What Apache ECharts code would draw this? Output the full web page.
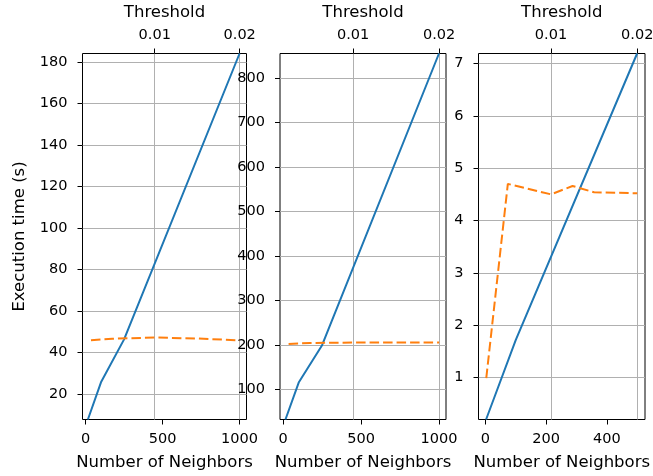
<!DOCTYPE html>
<html>
<head>
<meta charset="utf-8">
<script src="https://cdn.jsdelivr.net/npm/echarts@6/dist/echarts.min.js"></script>
<style>
html,body{margin:0;padding:0;background:#fff;}
#chart{width:653px;height:476px;}
</style>
</head>
<body>
<div id="chart"></div>
<script>
// Panel 1
const p1Neighbors = [15, 100, 250, 1000];
const p1Time = [7.7, 25.6, 46.3, 184];
const p1Thresholds = [0.0025, 0.005, 0.01, 0.015, 0.02];
const p1ThrTime = [45.9, 46.6, 47.2, 46.7, 45.8];
// Panel 2
const p2Neighbors = [15, 100, 250, 1000];
const p2Time = [32, 115, 199, 855];
const p2Thresholds = [0.0025, 0.005, 0.01, 0.015, 0.02];
const p2ThrTime = [202, 204, 205, 205, 205];
// Panel 3
const p3Neighbors = [2, 100, 500];
const p3Time = [0.2, 1.72, 7.19];
const p3Thresholds = [0.0025, 0.005, 0.01, 0.0125, 0.015, 0.02];
const p3ThrTime = [0.99, 4.70, 4.50, 4.66, 4.54, 4.52];
// Tick labels
const p1YTicks = [20, 40, 60, 80, 100, 120, 140, 160, 180];
const p2YTicks = [100, 200, 300, 400, 500, 600, 700, 800];
const p3YTicks = [1, 2, 3, 4, 5, 6, 7];
const p12XTicks = [0, 500, 1000];
const p3XTicks = [0, 200, 400];
const thrTicks = [0.01, 0.02];

const FONT = 'DejaVu Sans';
const panels = [
  {left: 82.5, width: 164, xr: [-20, 1045], tr: [0.0015, 0.0208], yr: [7.7, 184], yt: p1YTicks, xt: p12XTicks,
   nb: p1Neighbors, tm: p1Time, th: p1Thresholds, tt: p1ThrTime},
  {left: 280, width: 166, xr: [-20, 1045], tr: [0.0015, 0.0208], yr: [32, 855], yt: p2YTicks, xt: p12XTicks,
   nb: p2Neighbors, tm: p2Time, th: p2Thresholds, tt: p2ThrTime},
  {left: 478.5, width: 166.5, xr: [-23, 526], tr: [0.0016, 0.0209], yr: [0.2, 7.19], yt: p3YTicks, xt: p3XTicks,
   nb: p3Neighbors, tm: p3Time, th: p3Thresholds, tt: p3ThrTime}
];

const grid = [], xAxis = [], yAxis = [], series = [];
const tickStyle = {show: true, inside: false, length: 5, lineStyle: {color: '#000', width: 1}};
const labelStyle = {fontFamily: FONT, fontSize: 14.5, color: '#000', formatter: v => String(v)};
const nameStyle = {fontFamily: FONT, fontSize: 16.5, color: '#000'};
const gridLine = {show: true, lineStyle: {color: '#b0b0b0', width: 1}};

panels.forEach((p, i) => {
  grid.push({left: p.left, top: 53.5, width: p.width, height: 366, show: true,
             borderColor: '#000', borderWidth: 1, backgroundColor: 'transparent',
             containLabel: false, outerBoundsMode: 'none'});
  xAxis.push({gridIndex: i, type: 'value', position: 'bottom', min: p.xr[0], max: p.xr[1],
    axisLine: {show: false, onZero: false},
    axisTick: Object.assign({customValues: p.xt}, tickStyle),
    axisLabel: Object.assign({customValues: p.xt, margin: 12.5}, labelStyle),
    splitLine: {show: false},
    name: 'Number of Neighbors', nameLocation: 'middle', nameGap: 35, nameTextStyle: nameStyle});
  xAxis.push({gridIndex: i, type: 'value', position: 'top', min: p.tr[0], max: p.tr[1],
    axisLine: {show: false, onZero: false},
    axisTick: Object.assign({customValues: thrTicks}, tickStyle),
    axisLabel: Object.assign({customValues: thrTicks, margin: 11}, labelStyle),
    splitLine: gridLine,
    name: 'Threshold', nameLocation: 'middle', nameGap: 32, nameTextStyle: nameStyle});
  const y = {gridIndex: i, type: 'value', position: 'left', min: p.yr[0], max: p.yr[1],
    axisLine: {show: false, onZero: false},
    axisTick: Object.assign({customValues: p.yt}, tickStyle),
    axisLabel: Object.assign({customValues: p.yt, margin: 15}, labelStyle),
    splitLine: gridLine};
  if (i === 0) {
    y.name = 'Execution time (s)';
    y.nameLocation = 'middle';
    y.nameGap = 54;
    y.nameTextStyle = nameStyle;
  }
  yAxis.push(y);
  series.push({type: 'line', xAxisIndex: 2 * i, yAxisIndex: i,
    data: p.nb.map((v, k) => [v, p.tm[k]]), showSymbol: false, symbol: 'none',
    lineStyle: {color: '#1f77b4', width: 2}, itemStyle: {color: '#1f77b4'}, z: 3});
  series.push({type: 'line', xAxisIndex: 2 * i + 1, yAxisIndex: i,
    data: p.th.map((v, k) => [v, p.tt[k]]), showSymbol: false, symbol: 'none',
    lineStyle: {color: '#ff7f0e', width: 2, type: [9.5, 4]}, itemStyle: {color: '#ff7f0e'}, z: 4});
});

const chart = echarts.init(document.getElementById('chart'), null, {renderer: 'canvas'});
chart.setOption({animation: false, backgroundColor: '#fff', grid, xAxis, yAxis, series});
</script>
</body>
</html>
